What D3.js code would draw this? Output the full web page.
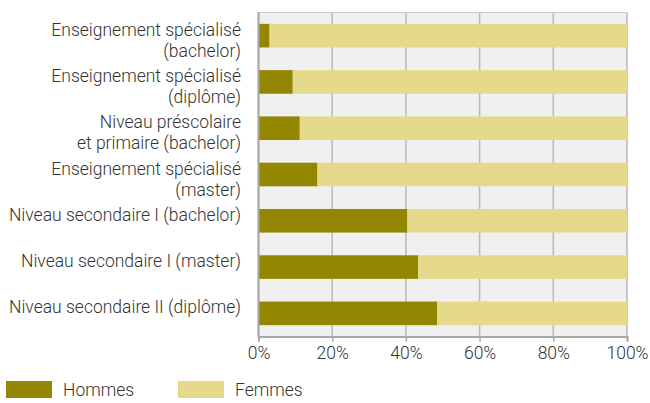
<!DOCTYPE html>
<html>
<head>
<meta charset="utf-8">
<script src="https://cdn.jsdelivr.net/npm/d3@7"></script>
<style>
  body { margin: 0; background: #fff; }
  svg text { font-family: Roboto, "Noto Sans", sans-serif; font-weight: 300; fill: #333; }
</style>
</head>
<body>
<svg id="chart"></svg>
<script>
// catégories (une ligne par élément du tableau = ligne du libellé)
const categories = [
  ["Enseignement spécialisé", "(bachelor)"],
  ["Enseignement spécialisé", "(diplôme)"],
  ["Niveau préscolaire", "et primaire (bachelor)"],
  ["Enseignement spécialisé", "(master)"],
  ["Niveau secondaire I (bachelor)"],
  ["Niveau secondaire I (master)"],
  ["Niveau secondaire II (diplôme)"]
];
const hommes = [3.0, 9.3, 11.2, 16.0, 40.4, 43.3, 48.5];
const femmes = hommes.map(v => 100 - v);
const seriesNames = ["Hommes", "Femmes"];
const seriesColors = ["#938600", "#e5da8c"];
const ticks = [0, 20, 40, 60, 80, 100];

const width = 650, height = 403;
const margin = { top: 12.5, right: 23, bottom: 66.5, left: 258.5 };
const fs = 17.5;
const lineH = 1.2; // em

const svg = d3.select("#chart").attr("width", width).attr("height", height);

const x = d3.scaleLinear().domain([0, 100]).range([margin.left, width - margin.right]);
const y = d3.scaleBand()
  .domain(d3.range(categories.length))
  .range([margin.top, height - margin.bottom])
  .paddingInner(0.49).paddingOuter(0.245);

// fond
svg.append("rect")
  .attr("x", margin.left).attr("y", margin.top)
  .attr("width", x(100) - x(0)).attr("height", height - margin.bottom - margin.top)
  .attr("fill", "#f0f0f0");

// grille
svg.append("g").selectAll("line")
  .data(ticks)
  .join("line")
  .attr("x1", d => x(d)).attr("x2", d => x(d))
  .attr("y1", margin.top).attr("y2", height - margin.bottom)
  .attr("stroke", "#b9b9b9").attr("stroke-width", 1.5);

// ligne du haut
svg.append("line")
  .attr("x1", x(0)).attr("x2", x(100))
  .attr("y1", margin.top).attr("y2", margin.top)
  .attr("stroke", "#c8c8c8").attr("stroke-width", 1);

// barres empilées
const stack = categories.map((c, i) => ({ i, h: hommes[i], f: femmes[i] }));
const g = svg.append("g");
g.selectAll("rect.h")
  .data(stack)
  .join("rect")
  .attr("class", "h")
  .attr("x", x(0))
  .attr("y", d => y(d.i))
  .attr("width", d => x(d.h) - x(0))
  .attr("height", y.bandwidth())
  .attr("fill", seriesColors[0]);
g.selectAll("rect.f")
  .data(stack)
  .join("rect")
  .attr("class", "f")
  .attr("x", d => x(d.h))
  .attr("y", d => y(d.i))
  .attr("width", d => x(d.h + d.f) - x(d.h))
  .attr("height", y.bandwidth())
  .attr("fill", seriesColors[1]);

// axe x
const xAxis = svg.append("g")
  .attr("transform", `translate(0,${height - margin.bottom})`)
  .call(d3.axisBottom(x).tickValues(ticks).tickFormat(d => d + "%").tickSizeOuter(0).tickSize(5).tickPadding(5));
xAxis.select(".domain").attr("stroke", "#a8a8a8").attr("stroke-width", 2);
xAxis.selectAll(".tick line").attr("stroke", "#a8a8a8").attr("stroke-width", 1.5);
xAxis.selectAll("text").attr("font-size", fs).attr("fill", "#333")
  .style("font-family", "Roboto").style("font-weight", 300);

// axe y (ligne gauche)
svg.append("line")
  .attr("x1", x(0)).attr("x2", x(0))
  .attr("y1", margin.top).attr("y2", height - margin.bottom + 1)
  .attr("stroke", "#a8a8a8").attr("stroke-width", 2);

// libellés
const labels = svg.append("g").selectAll("text")
  .data(categories)
  .join("text")
  .attr("text-anchor", "end")
  .attr("font-size", fs)
  .attr("x", 241)
  .attr("y", (d, i) => y(i) + y.bandwidth() / 2)
  .attr("dy", d => (0.35 - (d.length - 1) * lineH / 2) + "em");
labels.selectAll("tspan")
  .data(d => d)
  .join("tspan")
  .attr("x", 241)
  .attr("dy", (d, i) => i > 0 ? lineH + "em" : 0)
  .text(d => d);

// légende
const legend = svg.append("g").selectAll("g")
  .data(seriesNames)
  .join("g")
  .attr("transform", (d, i) => `translate(${6 + i * 172},381)`);
legend.append("rect")
  .attr("width", 46).attr("height", 17)
  .attr("fill", (d, i) => seriesColors[i]);
legend.append("text")
  .attr("x", 57).attr("y", 8.5).attr("dy", "0.35em")
  .attr("font-size", fs)
  .text(d => d);
</script>
</body>
</html>
